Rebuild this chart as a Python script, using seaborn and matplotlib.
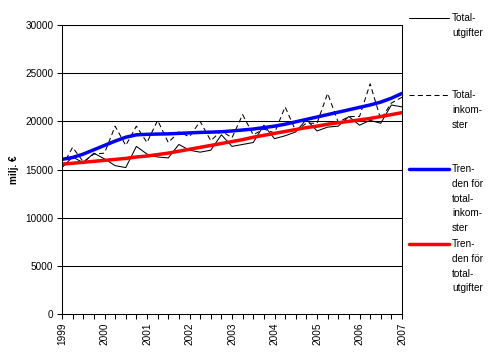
import numpy as np
import pandas as pd
import matplotlib
matplotlib.use("Agg")
import matplotlib.pyplot as plt
from matplotlib.lines import Line2D
from matplotlib.ticker import MultipleLocator
import seaborn as sns

# quarterly observations 1999Q1 ... 2007Q1
quarters = np.arange(33) / 4 + 1999

total_utgifter = [15200, 16300, 15700, 16700,
                  16100, 15400, 15200, 17400,
                  16600, 16300, 16200, 17600,
                  17000, 16800, 17000, 18600,
                  17400, 17600, 17800, 19600,
                  18200, 18500, 18900, 20200,
                  19000, 19400, 19500, 20500,
                  19600, 20100, 19800, 21700,
                  21500]

total_inkomster = [15300, 17300, 15800, 16600,
                   16700, 19500, 17500, 19500,
                   17800, 20100, 17800, 18900,
                   18400, 20000, 18000, 19000,
                   18300, 20700, 18600, 19200,
                   18800, 21500, 19000, 19800,
                   19800, 22900, 19900, 20500,
                   20500, 23900, 20200, 21900,
                   22500]

trend_inkomster = [16050, 16250, 16600, 17050, 17500, 17950, 18350, 18600,
                   18650, 18680, 18700, 18750, 18800, 18850, 18880, 18920,
                   19000, 19100, 19200, 19350, 19500, 19700, 19950, 20200,
                   20450, 20700, 20950, 21200, 21450, 21700, 22000, 22400,
                   22900]

trend_utgifter = [15550, 15650, 15750, 15850, 15950, 16050, 16150, 16300,
                  16400, 16550, 16700, 16900, 17100, 17300, 17500, 17700,
                  17900, 18100, 18350, 18550, 18750, 18950, 19150, 19350,
                  19500, 19700, 19850, 20000, 20150, 20300, 20500, 20700,
                  20900]

years = list(range(1999, 2008))

df = pd.DataFrame({"q": quarters,
                   "utg": total_utgifter,
                   "ink": total_inkomster,
                   "tr_ink": trend_inkomster,
                   "tr_utg": trend_utgifter})

sns.set_style("white")
plt.rcParams["font.family"] = ["Liberation Sans", "DejaVu Sans"]
plt.rcParams["text.color"] = "black"
plt.rcParams["axes.labelcolor"] = "black"
plt.rcParams["xtick.color"] = "black"
plt.rcParams["ytick.color"] = "black"
fs = 7.2

fig = plt.figure(figsize=(4.92, 3.53), dpi=100)
ax = fig.add_axes([62 / 492, 1 - 314 / 353, 340 / 492, 289 / 353])

for y in range(5000, 30001, 5000):
    ax.axhline(y, color="black", lw=0.75, zorder=0)

sns.lineplot(data=df, x="q", y="utg", ax=ax, color="black", lw=0.75)
sns.lineplot(data=df, x="q", y="ink", ax=ax, color="black", lw=0.75,
             linestyle=(0, (4.8, 3.2)))
sns.lineplot(data=df, x="q", y="tr_ink", ax=ax, color="#0000ff", lw=2.5)
sns.lineplot(data=df, x="q", y="tr_utg", ax=ax, color="#ff0000", lw=2.5)

ax.set_xlim(1999, 2007)
ax.set_ylim(0, 30000)
ax.set_xticks(years)
ax.set_xticklabels([str(y) for y in years], rotation=90, fontsize=fs)
ax.xaxis.set_minor_locator(MultipleLocator(0.25))
ax.set_yticks(range(0, 30001, 5000))
ax.set_yticklabels([str(v) for v in range(0, 30001, 5000)], fontsize=fs)
ax.tick_params(axis="both", which="both", direction="out", length=3.6,
               width=0.75, color="black", labelcolor="black", pad=2.5,
               bottom=True, left=True)
ax.set_xlabel("")
ax.set_ylabel("milj. €", fontsize=fs, fontweight="bold", color="black")
ax.yaxis.set_label_coords(-0.126, 0.5)
for s in ax.spines.values():
    s.set_color("black")
    s.set_linewidth(0.75)

# legend on the right, drawn like the original
legend_items = [
    (18, dict(color="black", lw=0.75), ["Total-", "utgifter"]),
    (95, dict(color="black", lw=0.75, linestyle=(0, (4.8, 3.2))),
     ["Total-", "inkom-", "ster"]),
    (169, dict(color="#0000ff", lw=2.5),
     ["Tren-", "den för", "total-", "inkom-", "ster"]),
    (244, dict(color="#ff0000", lw=2.5),
     ["Tren-", "den för", "total-", "utgifter"]),
]
for y0, style, lines in legend_items:
    fy = 1 - y0 / 353
    fig.add_artist(Line2D([409 / 492, 449 / 492], [fy, fy],
                          transform=fig.transFigure, **style))
    for k, txt in enumerate(lines):
        fig.text(452 / 492, 1 - (y0 + 14.8 * k) / 353, txt,
                 fontsize=fs, va="center", ha="left", color="black")

fig.savefig("out.png", dpi=100)
